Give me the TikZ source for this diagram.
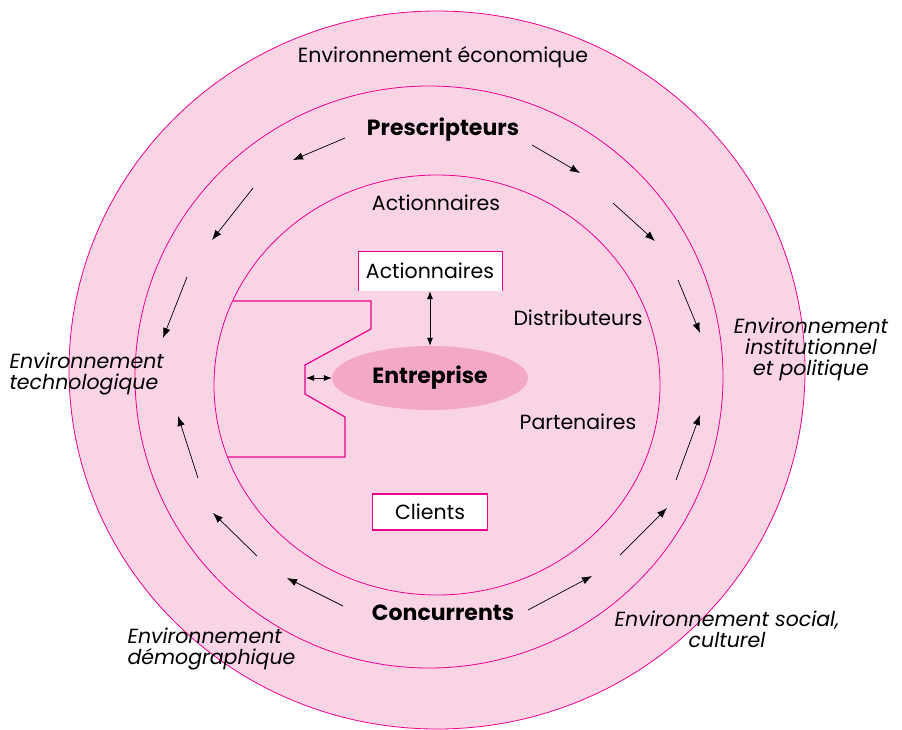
\documentclass[tikz,border=0pt]{standalone}
\usepackage{fontspec}
\setmainfont{Poppins}
\usetikzlibrary{positioning,calc,arrows.meta,shapes}
\definecolor{ringline}{HTML}{EC008C}
\definecolor{ringfill}{HTML}{F9D4E5}
\definecolor{firmfill}{HTML}{F4A8C8}

\begin{document}
\begin{tikzpicture}
    [
    x=1pt, y=-1pt,
    ring/.style={
      draw=ringline, fill=ringfill,
      line width=0.8pt},
    flow/.style={
      line width=0.7pt,
      -{Latex[length=10pt, width=7.5pt]}},
    twoway/.style={
      line width=0.7pt,
      {Latex[length=8pt, width=6pt]}-{Latex[length=8pt, width=6pt]}},
    txt/.style={font=\fontsize{20.5}{21}\selectfont},
    bold/.style={font=\fontsize{22}{23}\selectfont\bfseries},
    env/.style={font=\fontsize{20.5}{21}\selectfont\itshape}
    ]
    \useasboundingbox (0,0) rectangle (902,729);

    \def\flowsA{
          345/138/293/160,
          532/145/580/173,
          613/203/655/241,
          678/280/700/333,
          676/480/700/415,
          620/555/667/508,
          528/610/592/576,
          343/606/287/578,
          257/556/213/513,
          198/478/178/416,
          187/277/163/338,
          253/188/212/240
    }

    % First, draw the three rings
    \draw[ring] (437,370) ellipse [x radius=368pt, y radius=359pt];
    \draw[ring] (429,377) ellipse [x radius=294pt, y radius=291pt];
    \draw[ring] (437,385) ellipse [x radius=223pt, y radius=210pt];

    % Draw the arrows of the middle ring
    \foreach \xa/\ya/\xb/\yb in \flowsA {
      \draw[flow] (\xa,\ya) -- (\xb,\yb);
    }

    % Draw the notched block
    \draw[ringline, line width=1.2pt] (233,301) -- (371,301) -- (371,329)
                          -- (305,365) -- (305,394) -- (345,417)
                          -- (345,457) -- (228,457);
    \coordinate (notch) at (306,378);

    % Draw the firm and its partners
    \node[ellipse, fill=firmfill, minimum width=196pt, minimum height=64pt,
          bold] (firm) at (430,378) {Entreprise};
    \node[txt, fill=white, minimum width=144pt, minimum height=40pt]
          (actbox) at (430,271) {Actionnaires};
    \draw[ringline, line width=0.6pt] (actbox.south west) |- (actbox.north east)
                          -- (actbox.south east);
    \node[txt, fill=white, draw=ringline, line width=1.8pt,
          minimum width=115pt, minimum height=36pt] (clients) at (430,512) {Clients};
    \draw[twoway] (actbox.south) -- (firm.north);
    \draw[twoway] (notch) -- (firm.west);

    % Labels of the rings
    \node[txt] (eco) at (443,57) {Environnement économique};
    \node[bold] (presc) at (443,130) {Prescripteurs};
    \node[txt] (act) at (436,203) {Actionnaires};
    \node[txt] (distr) at (578,318) {Distributeurs};
    \node[txt] (part) at (578,422) {Partenaires};
    \node[bold] (conc) at (443,613) {Concurrents};

    % Labels of the environment
    \node[env, align=left, anchor=west] (techno) at (6,374)
          {Environnement\\technologique};
    \node[env, align=center] (insti) at (811,349)
          {Environnement\\institutionnel\\et politique};
    \node[env, align=center] (social) at (727,629)
          {Environnement social,\\culturel};
    \node[env, align=left, anchor=west] (demo) at (124,649)
          {Environnement\\démographique};
\end{tikzpicture}
\end{document}
